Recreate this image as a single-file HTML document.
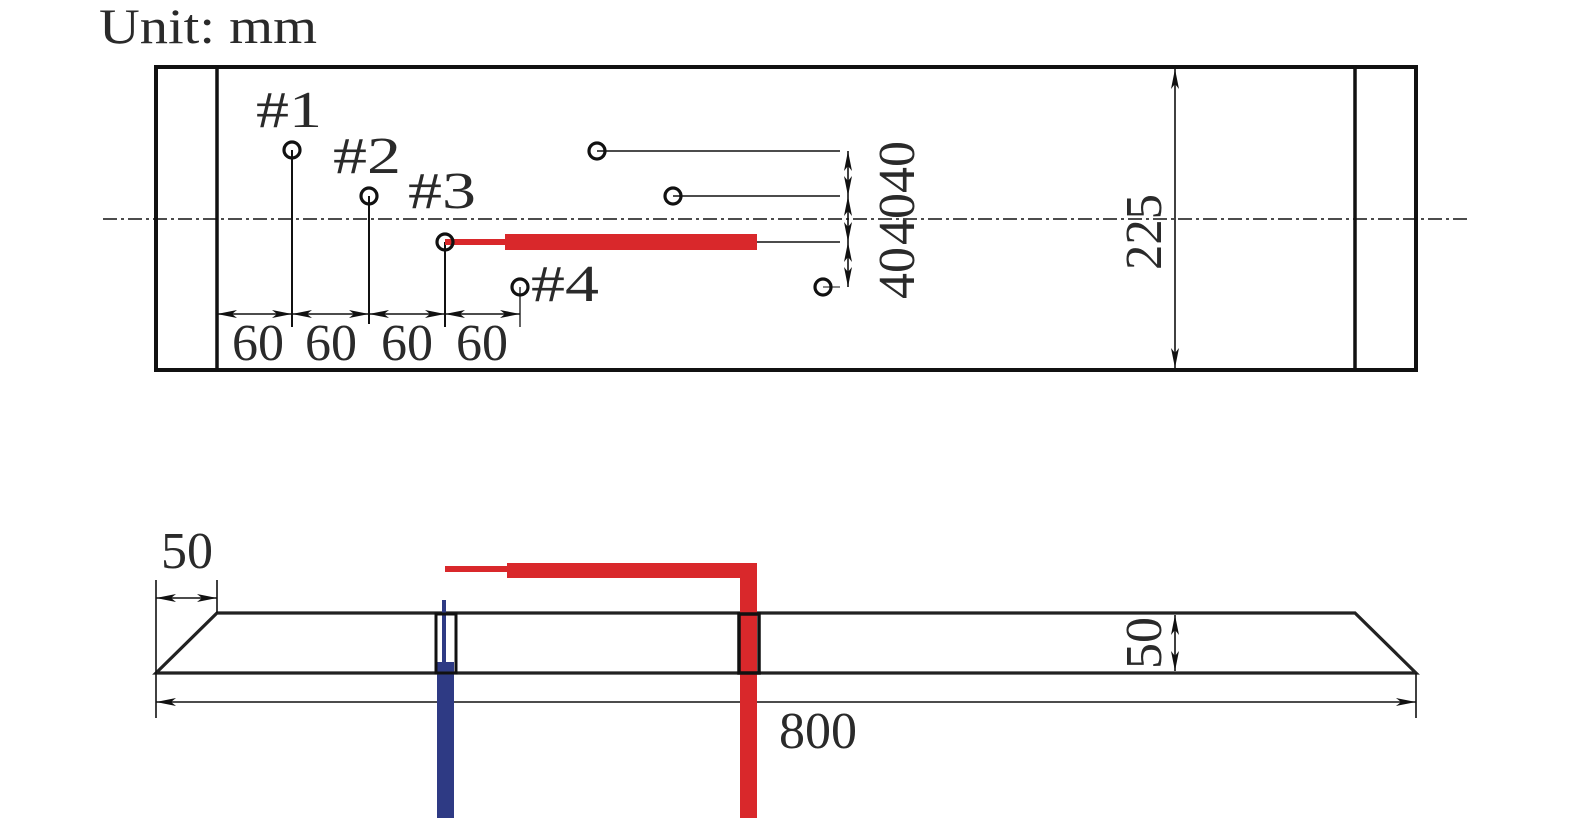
<!DOCTYPE html>
<html><head><meta charset="utf-8"><style>
html,body{margin:0;padding:0;background:#fff;}
svg{display:block;}
text{font-family:"Liberation Serif",serif;fill:#2a2a2a;}
</style></head><body>
<svg width="1575" height="827" viewBox="0 0 1575 827" xmlns="http://www.w3.org/2000/svg">
<defs>
<marker id="a" viewBox="0 0 20 10" refX="20" refY="5" markerWidth="20" markerHeight="10" markerUnits="userSpaceOnUse" orient="auto-start-reverse">
<path d="M0,1 L20,5 L0,9 L5,5 Z" fill="#111"/>
</marker>
</defs>
<text x="99" y="43" font-size="50" textLength="218" lengthAdjust="spacingAndGlyphs">Unit: mm</text>
<rect x="156" y="67" width="1260" height="303" fill="none" stroke="#111" stroke-width="4"/>
<line x1="217" y1="67" x2="217" y2="370" stroke="#111" stroke-width="3.5"/>
<line x1="1355" y1="67" x2="1355" y2="370" stroke="#111" stroke-width="3.5"/>
<line x1="103" y1="219" x2="1468" y2="219" stroke="#111" stroke-width="1.6" stroke-dasharray="14,4,3,4"/>
<g stroke="#111" stroke-width="2">
<line x1="292" y1="150" x2="292" y2="327"/>
<line x1="369" y1="196" x2="369" y2="324"/>
<line x1="445" y1="242" x2="445" y2="327"/>
<line x1="520" y1="287" x2="520" y2="327" stroke-width="1.3"/>
<line x1="597" y1="151" x2="840" y2="151" stroke-width="1.5"/>
<line x1="673" y1="196" x2="840" y2="196" stroke-width="1.5"/>
<line x1="749" y1="242" x2="840" y2="242" stroke-width="1.5"/>
<line x1="823" y1="287" x2="840" y2="287" stroke-width="1"/>
</g>
<g stroke="#111" stroke-width="1.6" fill="none">
<line x1="217" y1="314" x2="292" y2="314" marker-start="url(#a)" marker-end="url(#a)"/>
<line x1="292" y1="314" x2="369" y2="314" marker-start="url(#a)" marker-end="url(#a)"/>
<line x1="369" y1="314" x2="445" y2="314" marker-start="url(#a)" marker-end="url(#a)"/>
<line x1="445" y1="314" x2="520" y2="314" marker-start="url(#a)" marker-end="url(#a)"/>
<line x1="848" y1="151" x2="848" y2="196" marker-start="url(#a)" marker-end="url(#a)"/>
<line x1="848" y1="196" x2="848" y2="242" marker-start="url(#a)" marker-end="url(#a)"/>
<line x1="848" y1="242" x2="848" y2="287" marker-start="url(#a)" marker-end="url(#a)"/>
<line x1="1175" y1="69" x2="1175" y2="368" marker-start="url(#a)" marker-end="url(#a)"/>
</g>
<rect x="445" y="239" width="62" height="6" fill="#d9282b"/>
<rect x="505" y="234" width="252" height="16" fill="#d9282b"/>
<g fill="none" stroke="#111" stroke-width="3.2">
<circle cx="292" cy="150" r="8"/>
<circle cx="369" cy="196" r="8"/>
<circle cx="445" cy="242" r="8"/>
<circle cx="520" cy="287" r="8"/>
<circle cx="597" cy="151" r="8"/>
<circle cx="673" cy="196" r="8"/>
<circle cx="823" cy="287" r="8"/>
</g>
<g font-size="52">
<text x="256" y="127" textLength="66" lengthAdjust="spacingAndGlyphs">#1</text>
<text x="333" y="173" textLength="68" lengthAdjust="spacingAndGlyphs">#2</text>
<text x="408" y="208" textLength="68" lengthAdjust="spacingAndGlyphs">#3</text>
<text x="531" y="301" textLength="68" lengthAdjust="spacingAndGlyphs">#4</text>
<text x="232" y="360" textLength="52" lengthAdjust="spacingAndGlyphs">60</text>
<text x="305" y="360" textLength="52" lengthAdjust="spacingAndGlyphs">60</text>
<text x="381" y="360" textLength="52" lengthAdjust="spacingAndGlyphs">60</text>
<text x="456" y="360" textLength="52" lengthAdjust="spacingAndGlyphs">60</text>
<text transform="translate(914,167) rotate(-90)" text-anchor="middle" textLength="52" lengthAdjust="spacingAndGlyphs">40</text>
<text transform="translate(914,219) rotate(-90)" text-anchor="middle" textLength="52" lengthAdjust="spacingAndGlyphs">40</text>
<text transform="translate(914,273) rotate(-90)" text-anchor="middle" textLength="52" lengthAdjust="spacingAndGlyphs">40</text>
<text transform="translate(1161,232) rotate(-90)" text-anchor="middle" textLength="76" lengthAdjust="spacingAndGlyphs">225</text>
</g>
<path d="M156,673 L217,613 L1355,613 L1416,673 Z" fill="none" stroke="#222" stroke-width="3.2" stroke-linejoin="miter"/>
<g stroke="#111" stroke-width="1.6">
<line x1="156" y1="580" x2="156" y2="718"/>
<line x1="217" y1="580" x2="217" y2="613"/>
<line x1="1416" y1="673" x2="1416" y2="718"/>
<line x1="156" y1="598" x2="217" y2="598" marker-start="url(#a)" marker-end="url(#a)"/>
<line x1="156" y1="702" x2="1416" y2="702" marker-start="url(#a)" marker-end="url(#a)"/>
<line x1="1175" y1="615" x2="1175" y2="671" marker-start="url(#a)" marker-end="url(#a)"/>
</g>
<g font-size="52">
<text x="161" y="568" textLength="52" lengthAdjust="spacingAndGlyphs">50</text>
<text x="779" y="748" textLength="78" lengthAdjust="spacingAndGlyphs">800</text>
<text transform="translate(1161,643) rotate(-90)" text-anchor="middle" textLength="52" lengthAdjust="spacingAndGlyphs">50</text>
</g>
<rect x="442" y="600" width="4" height="62" fill="#2e3a84"/>
<rect x="437" y="662" width="17" height="156" fill="#2e3a84"/>
<rect x="436" y="614" width="20" height="59" fill="none" stroke="#111" stroke-width="3"/>
<rect x="445" y="566" width="62" height="6" fill="#d9282b"/>
<rect x="507" y="563" width="250" height="15" fill="#d9282b"/>
<rect x="740" y="563" width="17" height="255" fill="#d9282b"/>
<rect x="739" y="614" width="20" height="59" fill="none" stroke="#111" stroke-width="3.5"/>
</svg>
</body></html>
